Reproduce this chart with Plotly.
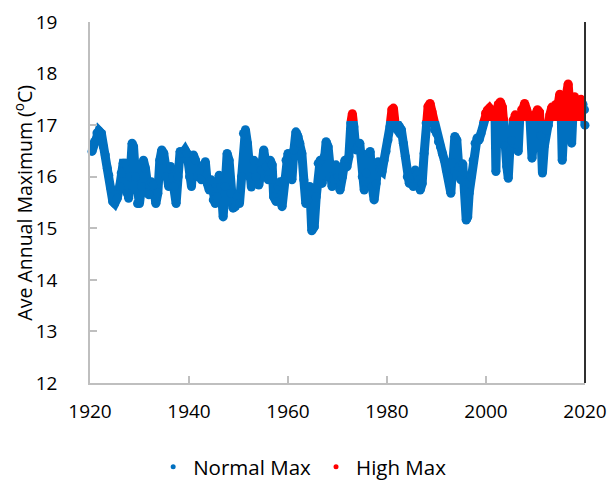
import plotly.graph_objects as go

# Data (year, average annual maximum in degC)
years = [
    1920.4, 1920.9, 1921.4, 1921.8, 1922.3, 1922.7, 1923.1, 1923.5, 1923.8, 1924.2,
    1924.6, 1925.0, 1925.5, 1926.0, 1926.3, 1926.7, 1927.1, 1927.5, 1927.8, 1928.1,
    1928.5, 1928.8, 1929.2, 1929.6, 1930.0, 1930.4, 1930.8, 1931.2, 1931.6, 1931.9,
    1932.4, 1932.8, 1933.3, 1933.7, 1934.1, 1934.5, 1934.9, 1935.4, 1935.9, 1936.3,
    1936.7, 1937.0, 1937.4, 1937.8, 1938.2, 1938.7, 1939.2, 1939.6, 1940.1, 1940.5,
    1940.9, 1941.3, 1941.7, 1942.1, 1942.5, 1942.9, 1943.3, 1943.7, 1944.1, 1944.5,
    1944.9, 1945.3, 1945.7, 1946.1, 1946.5, 1946.9, 1947.3, 1947.7, 1948.1, 1948.5,
    1948.9, 1949.3, 1949.7, 1950.2, 1950.6, 1951.0, 1951.4, 1951.8, 1952.2, 1952.6,
    1953.1, 1953.5, 1954.1, 1954.6, 1955.1, 1955.6, 1956.0, 1956.4, 1956.8, 1957.1,
    1957.6, 1958.0, 1958.4, 1958.8, 1959.2, 1959.6, 1960.0, 1960.4, 1960.8, 1961.2,
    1961.6, 1962.0, 1962.4, 1962.8, 1963.2, 1963.6, 1964.0, 1964.4, 1964.8, 1965.3,
    1965.7, 1966.1, 1966.5, 1966.9, 1967.3, 1967.7, 1968.1, 1968.5, 1968.9, 1969.3,
    1969.7, 1970.1, 1970.5, 1971.0, 1971.5, 1971.9, 1972.3, 1972.7, 1973.0, 1973.3,
    1973.7, 1974.1, 1974.5, 1975.0, 1975.4, 1975.8, 1976.2, 1976.6, 1977.0, 1977.4,
    1977.8, 1978.2, 1978.6, 1979.0, 1979.4, 1979.8, 1980.2, 1980.6, 1981.0, 1981.3,
    1981.7, 1982.1, 1982.5, 1982.9, 1983.3, 1983.7, 1984.1, 1984.5, 1984.9, 1985.3,
    1985.7, 1986.1, 1986.4, 1986.7, 1987.1, 1987.5, 1987.9, 1988.3, 1988.7, 1989.1,
    1989.3, 1989.6, 1990.0, 1990.4, 1990.8, 1991.2, 1991.6, 1992.0, 1992.4, 1992.9,
    1993.3, 1993.7, 1994.1, 1994.5, 1994.9, 1995.3, 1995.7, 1996.0, 1996.3, 1996.6,
    1997.0, 1997.4, 1997.8, 1998.2, 1998.6, 1999.0, 1999.5, 1999.9, 2000.3, 2000.7,
    2001.1, 2001.5, 2001.8, 2002.0, 2002.2, 2002.5, 2002.9, 2003.3, 2003.6, 2003.9,
    2004.2, 2004.5, 2004.8, 2005.2, 2005.5, 2005.9, 2006.2, 2006.5, 2006.8, 2007.2,
    2007.5, 2007.8, 2008.2, 2008.6, 2008.9, 2009.3, 2009.7, 2010.0, 2010.4, 2010.8,
    2011.1, 2011.4, 2011.8, 2012.2, 2012.6, 2012.9, 2013.3, 2013.7, 2014.1, 2014.5,
    2014.9, 2015.2, 2015.4, 2015.6, 2016.0, 2016.3, 2016.6, 2016.9, 2017.3, 2017.6,
    2017.9, 2018.3, 2018.6, 2018.9, 2019.2, 2019.6, 2019.9, 2020.0,
]
ave_max = [
    16.49, 16.68, 16.85, 16.89, 16.84, 16.58, 16.42, 16.16, 16.03, 15.78,
    15.52, 15.48, 15.58, 15.81, 16.07, 16.26, 16.26, 15.68, 15.58, 16.00,
    16.65, 16.58, 16.00, 15.48, 15.48, 15.81, 16.32, 16.16, 15.68, 15.65,
    15.90, 15.84, 15.48, 15.68, 16.32, 16.52, 16.45, 16.00, 15.81, 16.20,
    16.00, 15.81, 15.48, 16.00, 16.49, 16.45, 16.52, 16.45, 16.00, 15.81,
    16.42, 16.32, 16.00, 16.13, 15.94, 16.23, 16.29, 15.87, 15.74, 15.94,
    15.55, 15.48, 15.61, 16.03, 15.81, 15.22, 15.81, 16.45, 16.32, 15.68,
    15.39, 15.42, 15.61, 15.48, 16.00, 16.84, 16.91, 16.65, 16.00, 15.80,
    16.32, 16.00, 15.84, 16.13, 16.52, 16.20, 15.94, 16.32, 16.23, 15.61,
    15.52, 15.81, 15.90, 15.42, 15.94, 16.32, 16.45, 16.26, 15.94, 16.52,
    16.87, 16.78, 16.65, 16.45, 15.94, 15.48, 15.55, 15.81, 14.95, 15.03,
    15.61, 16.26, 16.32, 15.87, 16.39, 16.68, 16.58, 16.00, 15.81, 15.95,
    16.23, 16.00, 15.74, 16.00, 16.32, 16.19, 16.39, 17.04, 17.22, 16.97,
    16.52, 16.58, 16.65, 16.00, 15.74, 16.07, 16.45, 16.49, 15.81, 15.55,
    15.87, 16.29, 16.13, 16.10, 16.32, 16.49, 16.71, 16.97, 17.30, 17.33,
    16.97, 16.91, 16.97, 16.91, 16.65, 16.39, 16.00, 15.87, 16.03, 15.81,
    16.13, 16.05, 15.94, 15.74, 15.87, 16.45, 17.04, 17.36, 17.42, 17.26,
    17.04, 16.91, 16.84, 16.68, 16.58, 16.45, 16.32, 16.13, 16.00, 15.68,
    16.26, 16.78, 16.71, 16.19, 15.94, 16.25, 15.74, 15.16, 15.22, 15.68,
    16.00, 16.32, 16.65, 16.75, 16.71, 16.84, 17.04, 17.23, 17.29, 17.33,
    17.29, 17.23, 17.30, 16.10, 17.00, 17.40, 17.45, 17.35, 17.10, 16.60,
    16.20, 15.97, 16.50, 16.70, 17.10, 17.20, 17.15, 16.49, 17.10, 17.30,
    17.25, 17.42, 17.30, 17.20, 17.10, 16.36, 17.00, 17.20, 17.30, 17.25,
    16.80, 16.07, 16.60, 16.90, 17.00, 17.20, 17.35, 17.30, 17.40, 17.35,
    17.60, 17.20, 16.32, 17.30, 17.45, 17.60, 17.80, 17.40, 16.65, 17.30,
    17.55, 17.40, 17.20, 17.45, 17.50, 17.40, 17.30, 17.00,
]
high_threshold = 17.08
y_min, y_max = 12, 19
x_ticks = [1920, 1940, 1960, 1980, 2000, 2020]
y_ticks = [12, 13, 14, 15, 16, 17, 18, 19]

BLUE = "#0070C0"
RED = "#FF0000"
FONT = "Open Sans, Liberation Sans, sans-serif"

fig = go.Figure()

# Normal max: full series in blue
fig.add_trace(go.Scatter(
    x=years, y=ave_max, mode="lines+markers", name="Normal Max",
    line=dict(color=BLUE, width=9), marker=dict(color=BLUE, size=9),
    cliponaxis=False, showlegend=False, hoverinfo="x+y",
))
# High max: same series on an axis covering only values above the threshold
fig.add_trace(go.Scatter(
    x=years, y=ave_max, mode="lines+markers", name="High Max", yaxis="y2",
    line=dict(color=RED, width=9), marker=dict(color=RED, size=9),
    fill="tozeroy", fillcolor=RED, showlegend=False, hoverinfo="x+y",
))
# legend entries (dots only)
fig.add_trace(go.Scatter(x=[None], y=[None], mode="markers", name="Normal Max",
                         marker=dict(color=BLUE, size=5)))
fig.add_trace(go.Scatter(x=[None], y=[None], mode="markers", name="High Max",
                         marker=dict(color=RED, size=5)))

thr_frac = (high_threshold - y_min) / (y_max - y_min)

fig.update_layout(
    width=608, height=480,
    margin=dict(l=90, r=23, t=22, b=97, autoexpand=False),
    paper_bgcolor="white", plot_bgcolor="white",
    font=dict(family=FONT, size=19, color="black"),
    xaxis=dict(
        range=[1920, 2020], tickvals=x_ticks, ticktext=[str(v) for v in x_ticks],
        showgrid=False, zeroline=False, showline=True, linecolor="#BFBFBF", linewidth=1.5,
        ticks="inside", ticklen=7, tickcolor="#BFBFBF", tickwidth=1.5,
        ticklabelstandoff=10, tickfont=dict(size=19), automargin=False,
    ),
    yaxis=dict(
        range=[y_min, y_max], tickvals=y_ticks,
        showgrid=False, zeroline=False, showline=True, linecolor="#BFBFBF", linewidth=1.5,
        ticks="inside", ticklen=7, tickcolor="#BFBFBF", tickwidth=1.5,
        ticklabelstandoff=27, tickfont=dict(size=19), automargin=False,
    ),
    yaxis2=dict(
        domain=[thr_frac, 1], range=[high_threshold, y_max], anchor="x",
        showgrid=False, zeroline=False, showline=False, showticklabels=False, ticks="",
        automargin=False,
    ),
    legend=dict(
        orientation="h", xref="container", yref="container",
        x=0.497, y=0.027, xanchor="center", yanchor="middle",
        font=dict(size=20.5), itemsizing="trace", traceorder="normal",
    ),
    annotations=[dict(
        text="Ave Annual Maximum (<sup>o</sup>C)", xref="paper", yref="paper",
        x=-0.135, y=0.5, xanchor="center", yanchor="middle", textangle=-90,
        showarrow=False, font=dict(size=19.5),
    )],
    shapes=[dict(type="line", xref="paper", yref="paper", x0=1, x1=1, y0=0, y1=1,
                 line=dict(color="#303030", width=2), layer="above")],
)

fig.write_html(
    "out.html",
    config={"displayModeBar": False},
    post_script="document.body.style.margin='0';document.body.style.overflow='hidden';",
)
